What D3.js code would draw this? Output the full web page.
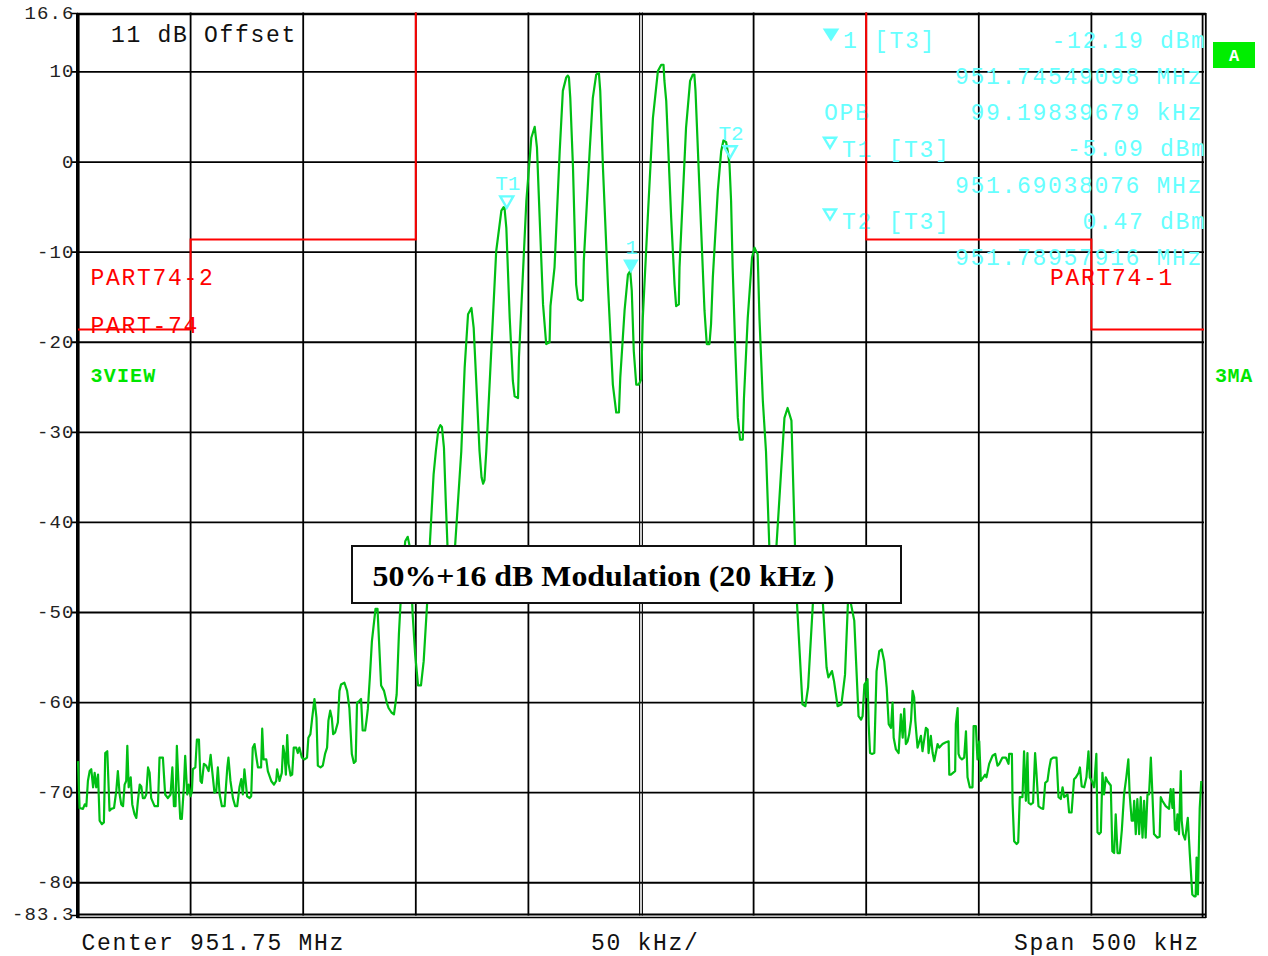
<!DOCTYPE html>
<html><head><meta charset="utf-8">
<script src="https://cdn.jsdelivr.net/npm/d3@7"></script>
<style>body{margin:0;background:#fff}svg{display:block}</style>
</head><body>
<svg id="c" width="1268" height="956"></svg>
<script>
// ---------- DATA ----------
// span 951.5 .. 952.0 MHz, frequency given as kHz from start of span
const spanStartMHz = 951.5;
const spanKHz = 500;
const yTickValues = [16.6, 10, 0, -10, -20, -30, -40, -50, -60, -70, -80, -83.3];
const yTickLabels = ["16.6", "10", "0", "-10", "-20", "-30", "-40", "-50", "-60", "-70", "-80", "-83.3"];
const gridFreqKHz = [50, 100, 150, 200, 250, 300, 350, 400, 450];
const gridLevelDb = [10, 0, -10, -20, -30, -40, -50, -60, -70, -80];

// trace: [kHz from start, dBm]
const tracePoints = [
[0,-66.5],[0.7,-71.7],[2.2,-71.8],[3.0,-71.3],[3.7,-71.5],[4.4,-68.7],[5.2,-67.6],[5.9,-67.4],[6.7,-69.4],[7.4,-67.8],
[8.1,-69.4],[8.9,-68.0],[9.6,-73.1],[10.6,-73.5],[11.5,-73.3],[12.1,-65.6],[13.0,-65.4],[14.0,-72.0],[14.8,-71.8],[16.0,-71.7],
[17.0,-69.8],[17.7,-67.6],[18.5,-70.2],[19.2,-71.3],[20.0,-71.5],[20.7,-69.1],[21.4,-68.7],[21.9,-64.8],[22.5,-69.4],[23.4,-68.3],
[24.1,-71.3],[25.1,-72.4],[25.9,-72.8],[26.6,-70.9],[27.4,-69.1],[28.1,-69.3],[28.8,-70.6],[29.6,-70.6],[30.3,-70.2],[31.1,-67.2],
[31.8,-67.8],[32.5,-70.6],[34.0,-71.5],[35.5,-71.5],[36.2,-66.1],[37.7,-66.1],[38.7,-70.2],[39.9,-70.6],[41.1,-70.2],[41.9,-67.2],
[42.6,-71.5],[43.3,-71.5],[43.9,-64.8],[44.7,-69.4],[45.4,-72.9],[46.1,-72.9],[47.0,-69.4],[47.6,-65.9],[48.5,-70.2],[49.2,-69.1],
[50.0,-70.4],[50.6,-69.8],[51.0,-67.4],[52.1,-67.2],[52.8,-64.1],[53.7,-64.1],[54.4,-68.7],[55.0,-68.9],[55.9,-66.8],[56.9,-67.0],
[58.0,-67.6],[58.9,-65.8],[59.6,-67.6],[60.6,-70.0],[61.4,-69.8],[62.1,-67.2],[62.9,-70.2],[63.9,-71.5],[65.1,-71.5],[66.3,-67.2],
[66.8,-66.1],[67.7,-68.7],[68.8,-70.6],[69.8,-71.5],[70.7,-71.5],[71.7,-69.4],[72.5,-68.5],[73.2,-70.2],[73.9,-67.4],[75.1,-70.4],
[76.2,-70.6],[76.9,-70.4],[77.6,-65.0],[78.4,-64.6],[79.1,-65.9],[79.9,-67.2],[81.3,-67.2],[81.8,-62.9],[82.4,-66.3],[83.6,-66.3],
[84.3,-67.6],[85.8,-68.7],[87.0,-69.1],[88.0,-68.7],[88.4,-67.4],[89.5,-68.7],[90.5,-67.8],[91.1,-64.8],[91.7,-65.7],[92.3,-68.0],
[92.9,-63.6],[93.5,-66.8],[94.4,-68.1],[95.1,-68.0],[95.8,-65.0],[96.9,-65.0],[97.6,-65.6],[98.3,-65.0],[99.4,-66.1],[100.6,-66.3],
[101.7,-66.1],[102.3,-63.9],[103.2,-63.5],[104.0,-61.7],[105.0,-59.6],[105.9,-61.7],[106.5,-67.0],[107.7,-67.2],[108.7,-67.0],[109.7,-65.7],
[110.6,-65.0],[111.2,-62.0],[112.0,-60.9],[112.7,-61.7],[113.3,-63.5],[114.2,-63.3],[115.4,-62.2],[116.1,-58.7],[116.8,-58.0],[118.3,-57.8],
[119.5,-58.7],[120.5,-60.6],[121.6,-65.7],[122.5,-66.7],[123.3,-66.5],[123.9,-60.0],[125.0,-59.8],[125.7,-59.6],[126.4,-63.1],[127.5,-63.1],
[128.1,-62.0],[128.7,-60.7],[129.6,-57.2],[130.5,-53.2],[132.1,-49.6],[133.0,-49.6],[134.6,-58.1],[135.9,-58.7],[137.1,-60.0],[137.9,-60.6],
[139.2,-61.1],[140.3,-61.3],[141.5,-59.1],[142.5,-52.4],[143.6,-47.2],[145.3,-42.1],[146.4,-41.6],[147.4,-42.8],[148.6,-50.2],[149.7,-54.6],
[151.0,-58.1],[152.3,-58.1],[153.5,-55.4],[155.1,-48.7],[156.3,-42.1],[157.9,-34.7],[158.9,-32.1],[160.0,-29.7],[160.9,-29.2],[161.6,-29.4],
[162.5,-31.7],[163.3,-37.6],[164.1,-42.8],[165.7,-46.0],[167.4,-42.8],[170.2,-32.1],[171.7,-22.8],[173.2,-16.9],[174.7,-16.2],[175.7,-18.4],
[176.9,-24.7],[178.3,-32.1],[179.2,-35.0],[179.9,-35.7],[180.5,-35.3],[181.3,-32.1],[185.7,-9.9],[188.0,-5.4],[189.0,-5.0],[189.4,-5.1],
[190.2,-7.3],[191.7,-17.3],[193.1,-24.3],[193.9,-26.0],[195.4,-26.2],[195.8,-21.7],[199.1,-4.3],[201.3,2.7],[202.8,3.9],[203.8,1.6],
[205.0,-6.2],[206.5,-15.8],[207.9,-20.2],[209.4,-20.0],[209.8,-16.0],[211.6,-11.7],[213.9,1.2],[215.3,7.9],[216.8,9.4],[217.5,9.6],
[218.0,9.4],[218.6,7.1],[219.8,-0.6],[221.2,-13.6],[222.0,-15.2],[223.5,-15.4],[224.2,-15.3],[224.6,-11.0],[227.2,1.2],[228.6,7.1],
[230.1,9.7],[231.3,9.9],[231.9,7.9],[233.1,-0.6],[235.3,-13.6],[237.5,-24.7],[239.0,-27.8],[240.2,-27.8],[240.8,-23.9],[242.7,-16.5],
[244.2,-12.5],[245.2,-12.1],[245.9,-14.3],[246.8,-21.0],[247.9,-24.7],[249.0,-24.7],[250.1,-24.1],[250.8,-17.3],[253.0,-6.2],[255.3,4.9],
[257.5,10.1],[259.0,10.8],[260.0,10.8],[260.4,9.0],[261.2,6.8],[263.4,-6.2],[264.9,-13.6],[265.6,-16.0],[266.8,-15.8],[267.1,-11.7],
[270.0,3.8],[271.8,9.0],[273.0,9.7],[273.7,9.7],[274.2,7.9],[276.0,-3.2],[278.2,-16.5],[279.2,-20.2],[280.4,-20.2],[281.1,-18.0],
[281.9,-12.8],[284.1,-3.2],[285.6,1.2],[286.6,2.4],[287.8,2.2],[288.7,0.9],[289.3,-0.3],[290.0,-4.3],[290.7,-11.7],[291.9,-21.0],
[293.0,-28.4],[294.0,-30.8],[295.2,-30.8],[295.7,-26.3],[297.4,-17.3],[299.3,-10.6],[300.4,-9.5],[301.1,-9.9],[301.8,-10.2],[302.6,-17.3],
[304.1,-26.5],[305.5,-32.1],[307.0,-42.8],[308.4,-46.5],[310.1,-42.8],[313.7,-28.4],[315.1,-27.3],[316.8,-28.7],[318.4,-42.8],[319.3,-49.1],
[321.7,-60.2],[323.0,-60.4],[324.2,-58.3],[326.3,-49.1],[328.3,-46.0],[330.8,-49.1],[332.4,-56.1],[333.2,-57.2],[334.8,-56.5],[335.7,-57.6],
[337.3,-60.4],[339.0,-60.2],[340.6,-56.9],[342.1,-47.6],[344.7,-50.9],[345.5,-55.4],[346.6,-61.5],[347.7,-61.9],[348.4,-61.5],[349.2,-58.0],
[350.0,-57.7],[350.3,-59.4],[350.6,-57.4],[351.1,-62.4],[351.7,-65.6],[352.6,-65.7],[353.6,-65.6],[354.0,-62.0],[354.6,-56.5],[355.8,-54.3],
[356.9,-54.1],[358.0,-55.4],[359.1,-58.3],[360.0,-62.4],[361.0,-62.8],[361.7,-60.0],[362.2,-63.9],[363.2,-65.2],[364.4,-65.6],[365.4,-61.3],
[366.2,-63.9],[366.9,-60.7],[367.6,-64.6],[368.4,-64.3],[369.1,-63.5],[369.9,-62.0],[370.6,-58.7],[371.3,-59.4],[371.8,-62.0],[372.8,-65.0],
[374.3,-63.7],[375.0,-65.4],[376.5,-62.8],[377.3,-63.0],[377.7,-65.6],[378.7,-63.7],[379.5,-65.6],[380.2,-66.5],[381.7,-64.6],[382.4,-65.0],
[383.9,-64.6],[385.4,-64.4],[386.6,-64.3],[386.9,-68.0],[387.6,-68.0],[389.5,-67.6],[389.8,-62.4],[390.6,-60.6],[391.0,-65.7],[391.6,-66.1],
[392.5,-66.3],[393.5,-66.1],[394.3,-63.2],[395.0,-68.3],[396.0,-69.4],[397.2,-69.4],[397.7,-62.6],[398.7,-62.6],[399.4,-66.3],[400.2,-64.3],
[400.9,-68.7],[402.0,-68.3],[402.8,-68.0],[403.4,-68.3],[404.6,-66.8],[406.1,-65.9],[407.3,-65.7],[408.3,-67.0],[409.1,-66.8],[410.5,-66.1],
[412.0,-66.1],[413.2,-66.8],[413.5,-65.7],[414.7,-65.7],[415.0,-71.1],[415.7,-75.4],[416.8,-75.7],[417.5,-75.5],[418.2,-70.5],[419.4,-70.5],
[420.1,-65.4],[420.9,-70.9],[421.6,-65.6],[422.1,-71.1],[423.1,-71.3],[424.1,-71.1],[425.0,-65.6],[425.6,-67.8],[426.5,-71.5],[427.5,-71.7],
[428.6,-71.8],[429.5,-68.9],[430.5,-68.7],[431.2,-67.4],[432.0,-66.3],[433.0,-66.1],[434.5,-66.1],[435.4,-70.5],[436.4,-70.7],[437.2,-69.4],
[437.9,-70.5],[439.4,-70.2],[440.1,-72.2],[441.2,-72.2],[442.3,-68.5],[443.1,-68.3],[444.3,-67.8],[444.9,-67.2],[445.7,-69.3],[446.8,-69.4],
[447.8,-68.3],[448.7,-65.4],[449.3,-68.3],[450.2,-68.7],[451.2,-69.4],[452.2,-65.7],[452.7,-74.4],[453.4,-74.6],[454.2,-74.4],[454.9,-67.8],
[455.6,-70.2],[456.4,-68.3],[457.1,-68.7],[458.6,-69.2],[459.3,-76.5],[460.1,-76.7],[460.8,-72.4],[461.6,-76.7],[462.6,-76.7],[463.5,-74.2],
[464.5,-70.2],[465.5,-68.3],[466.4,-66.3],[467.0,-70.2],[467.9,-73.1],[468.5,-73.1],[469.0,-70.9],[469.7,-74.6],[470.4,-70.7],[471.2,-74.6],
[471.9,-70.5],[472.7,-75.0],[473.4,-70.9],[474.1,-75.0],[474.9,-70.2],[475.6,-70.2],[476.4,-66.1],[477.1,-70.2],[477.8,-74.6],[479.3,-75.0],
[480.3,-74.9],[480.8,-70.5],[481.5,-70.9],[483.0,-71.5],[484.5,-71.8],[485.2,-69.6],[486.0,-71.7],[486.4,-69.6],[487.1,-74.1],[487.7,-74.2],
[488.2,-72.4],[488.9,-74.6],[489.7,-67.6],[490.1,-73.1],[490.7,-74.6],[491.6,-75.2],[492.8,-72.8],[493.7,-76.8],[494.8,-81.3],[495.6,-81.5],
[496.3,-81.5],[496.7,-77.2],[497.3,-81.3],[498.1,-71.7],[498.8,-68.7]
];

// limit lines
const limitLeftKHz  = [0, 50, 50, 150, 150];
const limitLeftDb   = [-18.6, -18.6, -8.6, -8.6, 16.6];
const limitRightKHz = [350, 350, 450, 450, 500];
const limitRightDb  = [16.6, -8.6, -8.6, -18.6, -18.6];

// markers
const markerNames  = ["1", "T1", "T2"];
const markerMHz    = [951.74549098, 951.69038076, 951.78957916];
const markerDbm    = [-12.19, -5.09, 0.47];
const markerFilled = [true, false, false];

// ---------- DRAW ----------
const svg = d3.select("#c");
const x = d3.scaleLinear().domain([0, spanKHz]).range([78, 1204]);
const y = d3.scaleLinear().domain([-83.3, 16.6]).range([912.5, 12.5]);
const MONO = "'Liberation Mono', 'DejaVu Sans Mono', monospace";
const CYAN = "#66ffff";
const RED = "#ff0000";

// grid
const g = svg.append("g");
g.selectAll("line.gy").data(gridLevelDb).join("line")
  .attr("x1", 71).attr("x2", 1204).attr("y1", d => y(d)).attr("y2", d => y(d))
  .attr("stroke", "#000").attr("stroke-width", 1.8);
g.selectAll("line.gx").data(gridFreqKHz.filter(d => d !== 250)).join("line")
  .attr("x1", d => x(d)).attr("x2", d => x(d)).attr("y1", y(16.6)).attr("y2", y(-83.3) + 3)
  .attr("stroke", "#000").attr("stroke-width", 1.8);
[-1.4, 1.4].forEach(o => g.append("line")
  .attr("x1", x(250) + o).attr("x2", x(250) + o).attr("y1", y(16.6)).attr("y2", y(-83.3) + 3)
  .attr("stroke", "#111").attr("stroke-width", 1.2));
// small ticks for top/bottom labels
[16.6, -83.3].forEach(v => g.append("line").attr("x1", 71).attr("x2", 78)
  .attr("y1", y(v) + (v > 0 ? 1 : 3)).attr("y2", y(v) + (v > 0 ? 1 : 3)).attr("stroke", "#000").attr("stroke-width", 1.5));

// frame
g.append("line").attr("x1", 77).attr("x2", 1206).attr("y1", 14).attr("y2", 14).attr("stroke", "#000").attr("stroke-width", 2.5);
g.append("line").attr("x1", 77).attr("x2", 1206).attr("y1", 914.5).attr("y2", 914.5).attr("stroke", "#000").attr("stroke-width", 2);
g.append("line").attr("x1", 77).attr("x2", 1206).attr("y1", 917.5).attr("y2", 917.5).attr("stroke", "#000").attr("stroke-width", 1.6);
g.append("line").attr("x1", 77.8).attr("x2", 77.8).attr("y1", 13).attr("y2", 918).attr("stroke", "#000").attr("stroke-width", 3.6);
g.append("line").attr("x1", 1202.6).attr("x2", 1202.6).attr("y1", 13).attr("y2", 918).attr("stroke", "#000").attr("stroke-width", 1.8);
g.append("line").attr("x1", 1205.8).attr("x2", 1205.8).attr("y1", 13).attr("y2", 918).attr("stroke", "#000").attr("stroke-width", 1.8);

// y tick labels
svg.append("g").selectAll("text").data(yTickValues).join("text")
  .attr("x", 74.5).attr("y", (d, i) => y(d) + (i === 0 ? 6 : i === yTickValues.length - 1 ? 7 : 5.5))
  .attr("text-anchor", "end").attr("font-family", MONO).attr("font-size", 19)
  .attr("letter-spacing", 1.1).attr("fill", "#222")
  .text((d, i) => yTickLabels[i]);

// text helper
function txt(s, px, py, opts = {}) {
  return svg.append("text").attr("x", px).attr("y", py)
    .attr("font-family", opts.family || MONO).attr("font-size", opts.size || 23)
    .attr("letter-spacing", opts.ls !== undefined ? opts.ls : 1.7)
    .attr("font-weight", opts.weight || "normal")
    .attr("text-anchor", opts.anchor || "start")
    .attr("fill", opts.fill || "#111").text(s);
}

// annotations (under red lines / trace)
txt("11 dB Offset", 111, 41.5);
txt("1 [T3]", 843, 48, {fill: CYAN});
txt("-12.19 dBm", 1206.5, 47.5, {fill: CYAN, anchor: "end"});
txt("951.74549098 MHz", 1203, 84, {fill: CYAN, anchor: "end"});
txt("OPB", 824, 120, {fill: CYAN});
txt("99.19839679 kHz", 1203, 120, {fill: CYAN, anchor: "end"});
txt("T1 [T3]", 842, 156.5, {fill: CYAN});
txt("-5.09 dBm", 1206.5, 156, {fill: CYAN, anchor: "end"});
txt("951.69038076 MHz", 1203, 192.5, {fill: CYAN, anchor: "end"});
txt("T2 [T3]", 842, 228.5, {fill: CYAN});
txt("0.47 dBm", 1206.5, 228.5, {fill: CYAN, anchor: "end"});
txt("951.78957916 MHz", 1203, 264.5, {fill: CYAN, anchor: "end"});
// info triangles
svg.append("path").attr("d", "M822.7,28.5 L839.3,28.5 L831,41.5 Z").attr("fill", CYAN);
[136.8, 208.5].forEach(t => svg.append("path")
  .attr("d", `M824,${t + 1} L836,${t + 1} L830,${t + 11} Z`)
  .attr("fill", "none").attr("stroke", CYAN).attr("stroke-width", 2.4));

// limit labels
txt("PART74-2", 90.5, 284.5, {fill: RED});
txt("PART-74", 90.5, 333, {fill: RED});
txt("PART74-1", 1050, 284.5, {fill: RED});
txt("3VIEW", 90.5, 381.5, {fill: "#00e600", weight: "bold", size: 20, ls: 1.2});
txt("3MA", 1215, 381.5, {fill: "#00e600", weight: "bold", size: 20, ls: 0.6});

// limit lines
const lim = d3.line().x(d => x(d[0])).y(d => y(d[1]));
svg.append("path").attr("d", lim(limitLeftKHz.map((f, i) => [f, limitLeftDb[i]])))
  .attr("fill", "none").attr("stroke", RED).attr("stroke-width", 2);
svg.append("path").attr("d", lim(limitRightKHz.map((f, i) => [f, limitRightDb[i]])))
  .attr("fill", "none").attr("stroke", RED).attr("stroke-width", 2);

// trace
svg.append("path").datum(tracePoints)
  .attr("d", d3.line().x(d => x(d[0])).y(d => y(d[1])))
  .attr("fill", "none").attr("stroke", "#00bf14").attr("stroke-width", 2.2)
  .attr("stroke-linejoin", "round");

// markers
markerNames.forEach((n, i) => {
  const mx = x((markerMHz[i] - spanStartMHz) * 1000);
  const my = y(markerDbm[i]);
  const p = svg.append("path").attr("d", `M${mx - 6.5},${my - 11.5} L${mx + 6.5},${my - 11.5} L${mx},${my} Z`);
  if (markerFilled[i]) p.attr("fill", CYAN).attr("stroke", CYAN).attr("stroke-width", 1.5);
  else p.attr("fill", "none").attr("stroke", CYAN).attr("stroke-width", 2.4);
  txt(n, mx + 1, my - 17.5, {fill: CYAN, anchor: "middle", size: 21, ls: 0});
});

// text box
svg.append("rect").attr("x", 352).attr("y", 546).attr("width", 549).attr("height", 57)
  .attr("fill", "#fff").attr("stroke", "#111").attr("stroke-width", 2);
svg.append("text").attr("x", 372.5).attr("y", 586)
  .attr("font-family", "'Liberation Serif', 'Times New Roman', serif")
  .attr("font-weight", "bold").attr("font-size", 30)
  .attr("textLength", 462).attr("lengthAdjust", "spacingAndGlyphs")
  .attr("fill", "#000").text("50%+16 dB Modulation (20 kHz )");

// A badge
svg.append("rect").attr("x", 1213).attr("y", 42).attr("width", 42).attr("height", 26).attr("fill", "#00ee00");
txt("A", 1234, 60.5, {fill: "#fff", weight: "bold", size: 17, ls: 0, anchor: "middle"});

// bottom labels
txt("Center 951.75 MHz", 81.5, 950);
txt("50 kHz/", 591, 950);
txt("Span 500 kHz", 1014, 950);
</script>
</body></html>
